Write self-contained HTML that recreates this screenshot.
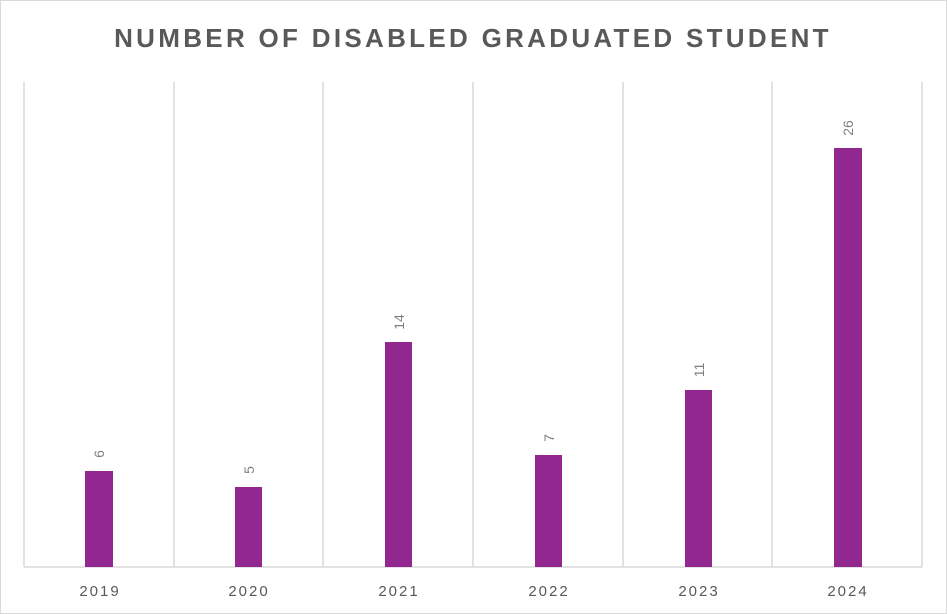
<!DOCTYPE html>
<html><head><meta charset="utf-8"><style>body{margin:0;background:#fff}svg{display:block}</style></head><body>
<svg width="947" height="614" xmlns="http://www.w3.org/2000/svg" font-family="Liberation Sans, sans-serif">
<rect x="0.5" y="0.5" width="946" height="613" fill="#fff" stroke="#d9d9d9"/>
<text x="473" y="47" text-anchor="middle" font-size="26" font-weight="bold" fill="#595959" letter-spacing="3.3">NUMBER OF DISABLED GRADUATED STUDENT</text>
<g stroke="#d9d9d9" stroke-width="1.5">
<line x1="24" y1="82" x2="24" y2="567"/><line x1="174" y1="82" x2="174" y2="567"/><line x1="323" y1="82" x2="323" y2="567"/><line x1="473" y1="82" x2="473" y2="567"/><line x1="623" y1="82" x2="623" y2="567"/><line x1="772" y1="82" x2="772" y2="567"/><line x1="922" y1="82" x2="922" y2="567"/>
<line x1="24" y1="567" x2="922" y2="567"/>
</g>
<g fill="#92278f">
<rect x="85" y="471" width="28" height="96"/>
<rect x="235" y="487" width="27" height="80"/>
<rect x="385" y="342" width="27" height="225"/>
<rect x="535" y="455" width="27" height="112"/>
<rect x="685" y="390" width="27" height="177"/>
<rect x="834" y="148" width="28" height="419"/>
</g>
<g font-size="14" fill="#7f7f7f" text-anchor="middle">
<text transform="translate(104,454) rotate(-90)">6</text>
<text transform="translate(254,470) rotate(-90)">5</text>
<text transform="translate(404,322) rotate(-90)">14</text>
<text transform="translate(554,438) rotate(-90)">7</text>
<text transform="translate(704,370) rotate(-90)">11</text>
<text transform="translate(853,128) rotate(-90)">26</text>
</g>
<g font-size="15" fill="#595959" text-anchor="middle" letter-spacing="2">
<text x="100" y="596">2019</text><text x="249" y="596">2020</text><text x="399" y="596">2021</text><text x="549" y="596">2022</text><text x="699" y="596">2023</text><text x="848" y="596">2024</text>
</g>
</svg>
</body></html>
